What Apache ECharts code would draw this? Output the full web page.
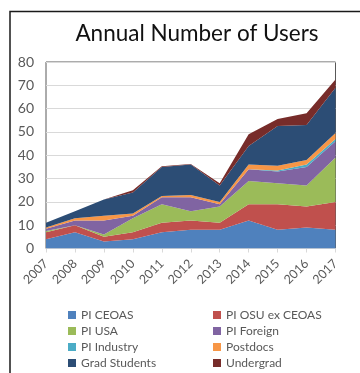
<!DOCTYPE html>
<html>
<head>
<meta charset="utf-8">
<script src="https://cdn.jsdelivr.net/npm/echarts@6/dist/echarts.min.js"></script>
<style>
  html, body { margin: 0; padding: 0; background: #fff; }
  #chart { width: 360px; height: 373px; }
</style>
</head>
<body>
<div id="chart"></div>
<script>
// Users per year, by category
const years = ['2007', '2008', '2009', '2010', '2011', '2012', '2013', '2014', '2015', '2016', '2017'];
const yTicks = [0, 10, 20, 30, 40, 50, 60, 70, 80];

const piCeoas      = [4, 7, 3, 4, 7, 8, 8, 12, 8, 9, 8];
const piOsuExCeoas = [3, 3, 2, 3, 4, 4, 3, 7, 11, 9, 12];
const piUsa        = [0.5, 0, 1, 6, 8, 4, 7, 10, 9, 9, 19];
const piForeign    = [1, 2, 6, 1, 3, 6, 1, 5, 5, 8, 7];
const piIndustry   = [0, 0, 0, 0, 0, 0, 0, 0, 0.5, 1, 1];
const postdocs     = [0.5, 1, 2, 1, 0.5, 1, 1, 2, 2, 2, 2.5];
const gradStudents = [2, 3, 7, 9, 12.5, 13, 7, 8, 17, 15, 19.5];
const undergrad    = [0, 0, 0, 1, 0.3, 0.3, 1, 5, 3, 5, 3.5];

const seriesNames = ['PI CEOAS', 'PI OSU ex CEOAS', 'PI USA', 'PI Foreign',
                     'PI Industry', 'Postdocs', 'Grad Students', 'Undergrad'];
const seriesData = [piCeoas, piOsuExCeoas, piUsa, piForeign,
                    piIndustry, postdocs, gradStudents, undergrad];
const colors = ['#4F81BD', '#C0504D', '#9BBB59', '#8064A2',
                '#4BACC6', '#F79646', '#2C4D75', '#772C2A'];

const FONT = 'Lato, "Open Sans", sans-serif';

const chart = echarts.init(document.getElementById('chart'), null, { renderer: 'canvas' });

const legendText = { fontFamily: FONT, fontSize: 12, color: '#595959', lineHeight: 15 };

chart.setOption({
  animation: false,
  color: colors,
  title: {
    text: 'Annual Number of Users',
    left: 192,
    top: 17,
    textAlign: 'center',
    textStyle: { fontFamily: FONT, fontSize: 22.5, fontWeight: 'normal', color: '#111' }
  },
  legend: [
    {
      orient: 'vertical', left: 63, top: 302.5, height: 80, itemWidth: 8, itemHeight: 8, itemGap: 1,
      icon: 'rect', textStyle: legendText,
      data: ['PI CEOAS', 'PI USA', 'PI Industry', 'Grad Students']
    },
    {
      orient: 'vertical', left: 208, top: 302.5, height: 80, itemWidth: 8, itemHeight: 8, itemGap: 1,
      icon: 'rect', textStyle: legendText,
      data: ['PI OSU ex CEOAS', 'PI Foreign', 'Postdocs', 'Undergrad']
    }
  ],
  grid: {
    left: 46, right: 24.5, top: 62, bottom: 124.5,
    show: true, borderColor: '#595959', borderWidth: 1, backgroundColor: 'transparent'
  },
  xAxis: {
    type: 'category',
    data: years,
    boundaryGap: false,
    axisLine: { show: true, lineStyle: { color: '#D9D9D9' } },
    axisTick: { show: true, length: 4, lineStyle: { color: '#D9D9D9' } },
    axisLabel: { rotate: 45, margin: 13, fontFamily: FONT, fontSize: 12.5, color: '#595959' }
  },
  yAxis: {
    type: 'value',
    min: yTicks[0],
    max: yTicks[yTicks.length - 1],
    interval: 10,
    axisLine: { show: false },
    axisTick: { show: false },
    axisLabel: { margin: 12, fontFamily: FONT, fontSize: 14, color: '#595959' },
    splitLine: { lineStyle: { color: '#D9D9D9', width: 1 } }
  },
  graphic: [
    {
      type: 'polyline',
      shape: { points: [[10, 373], [10, 11.5], [360, 11.5]] },
      style: { stroke: '#1a1a1a', lineWidth: 1.5, fill: null },
      silent: true
    }
  ],
  series: seriesNames.map((name, i) => ({
    name,
    type: 'line',
    stack: 'users',
    data: seriesData[i],
    symbol: 'none',
    lineStyle: { width: 0 },
    areaStyle: { color: colors[i], opacity: 1 },
    emphasis: { disabled: true }
  }))
});
</script>
</body>
</html>
